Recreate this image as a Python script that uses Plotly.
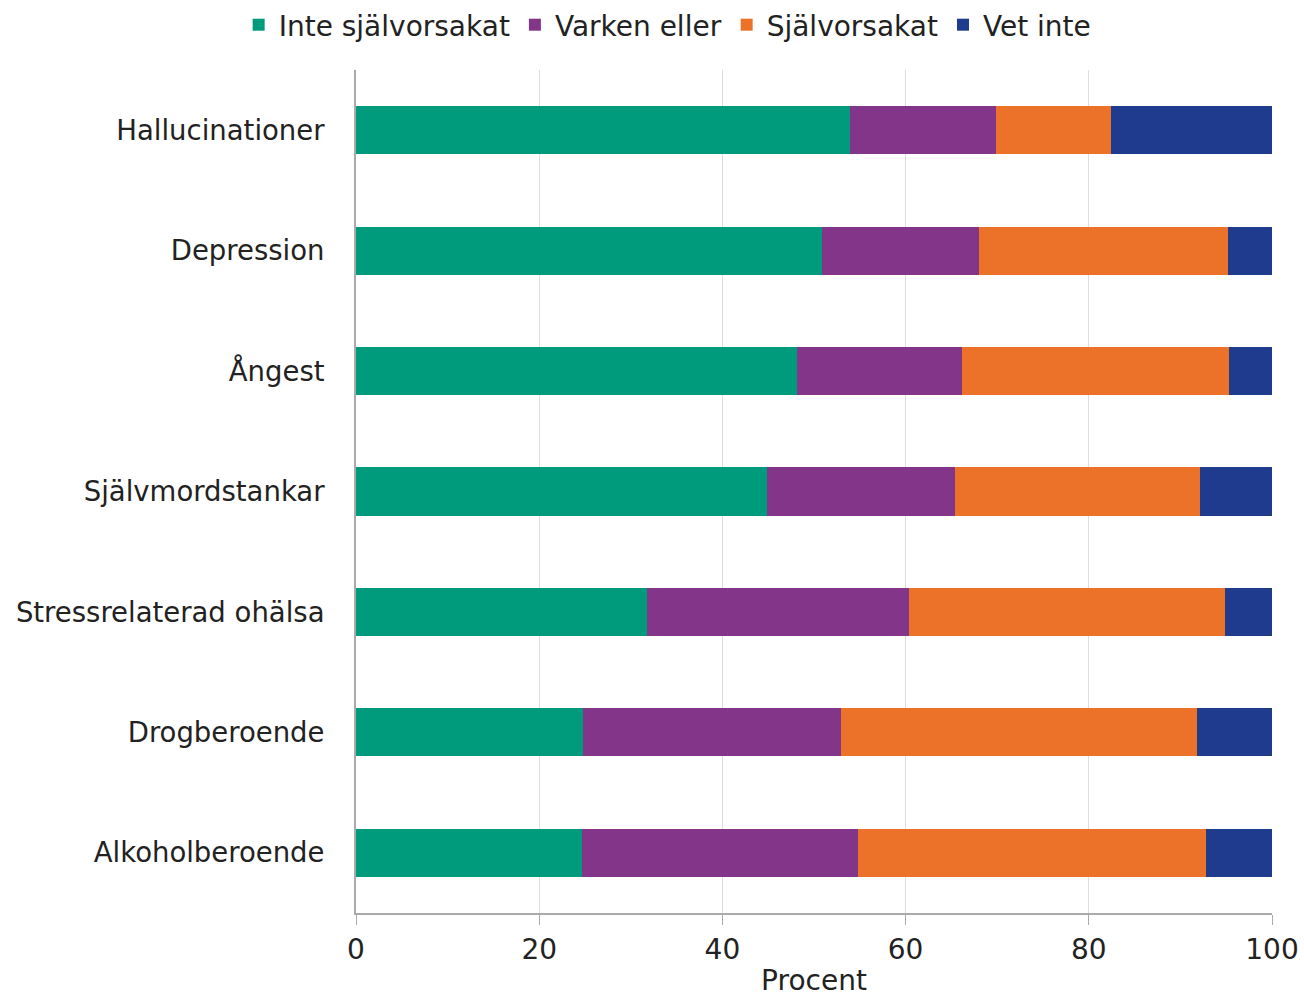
import plotly.graph_objects as go

categories = [
    "Hallucinationer",
    "Depression",
    "Ångest",
    "Självmordstankar",
    "Stressrelaterad ohälsa",
    "Drogberoende",
    "Alkoholberoende",
]

inte_sjalvorsakat = [53.9, 50.9, 48.1, 44.9, 31.8, 24.8, 24.7]
varken_eller = [16.0, 17.1, 18.1, 20.5, 28.6, 28.1, 30.1]
sjalvorsakat = [12.5, 27.2, 29.1, 26.7, 34.5, 38.9, 38.0]
vet_inte = [17.6, 4.8, 4.7, 7.9, 5.1, 8.2, 7.2]

series = [
    ("Inte självorsakat", inte_sjalvorsakat, "#009B7D"),
    ("Varken eller", varken_eller, "#833589"),
    ("Självorsakat", sjalvorsakat, "#EC7129"),
    ("Vet inte", vet_inte, "#1F3B8E"),
]

x_ticks = [0, 20, 40, 60, 80, 100]

fig = go.Figure()
for name, vals, color in series:
    fig.add_trace(go.Bar(
        y=categories,
        x=vals,
        name=name,
        orientation="h",
        marker=dict(color=color, line=dict(width=0)),
    ))

fig.update_layout(
    barmode="stack",
    bargap=0.6,
    width=1304,
    height=997,
    margin=dict(l=356, r=32, t=70, b=84, autoexpand=False),
    plot_bgcolor="white",
    paper_bgcolor="white",
    font=dict(family="DejaVu Sans", size=24, color="#222222"),
    legend=dict(
        orientation="h",
        xref="container",
        x=0.512,
        xanchor="center",
        yref="container",
        y=1.0,
        yanchor="top",
        traceorder="normal",
        font=dict(family="DejaVu Sans", size=28),
        itemwidth=30,
    ),
    xaxis=dict(
        range=[0, 100],
        tickvals=x_ticks,
        ticktext=[str(t) for t in x_ticks],
        showgrid=True,
        gridcolor="#DDDDDD",
        gridwidth=1,
        showline=True,
        linecolor="#AAAAAA",
        linewidth=2,
        ticks="outside",
        ticklen=10,
        tickcolor="#AAAAAA",
        tickfont=dict(family="DejaVu Sans", size=28),
        title=dict(text="Procent", font=dict(family="DejaVu Sans", size=28), standoff=8),
        zeroline=False,
        automargin=False,
    ),
    yaxis=dict(
        categoryorder="array",
        categoryarray=categories[::-1],
        showline=True,
        linecolor="#AAAAAA",
        linewidth=2,
        ticks="",
        ticklabelstandoff=24,
        tickfont=dict(family="DejaVu Sans", size=27.5),
        showgrid=False,
        automargin=False,
    ),
)

fig.write_html("out.html")
